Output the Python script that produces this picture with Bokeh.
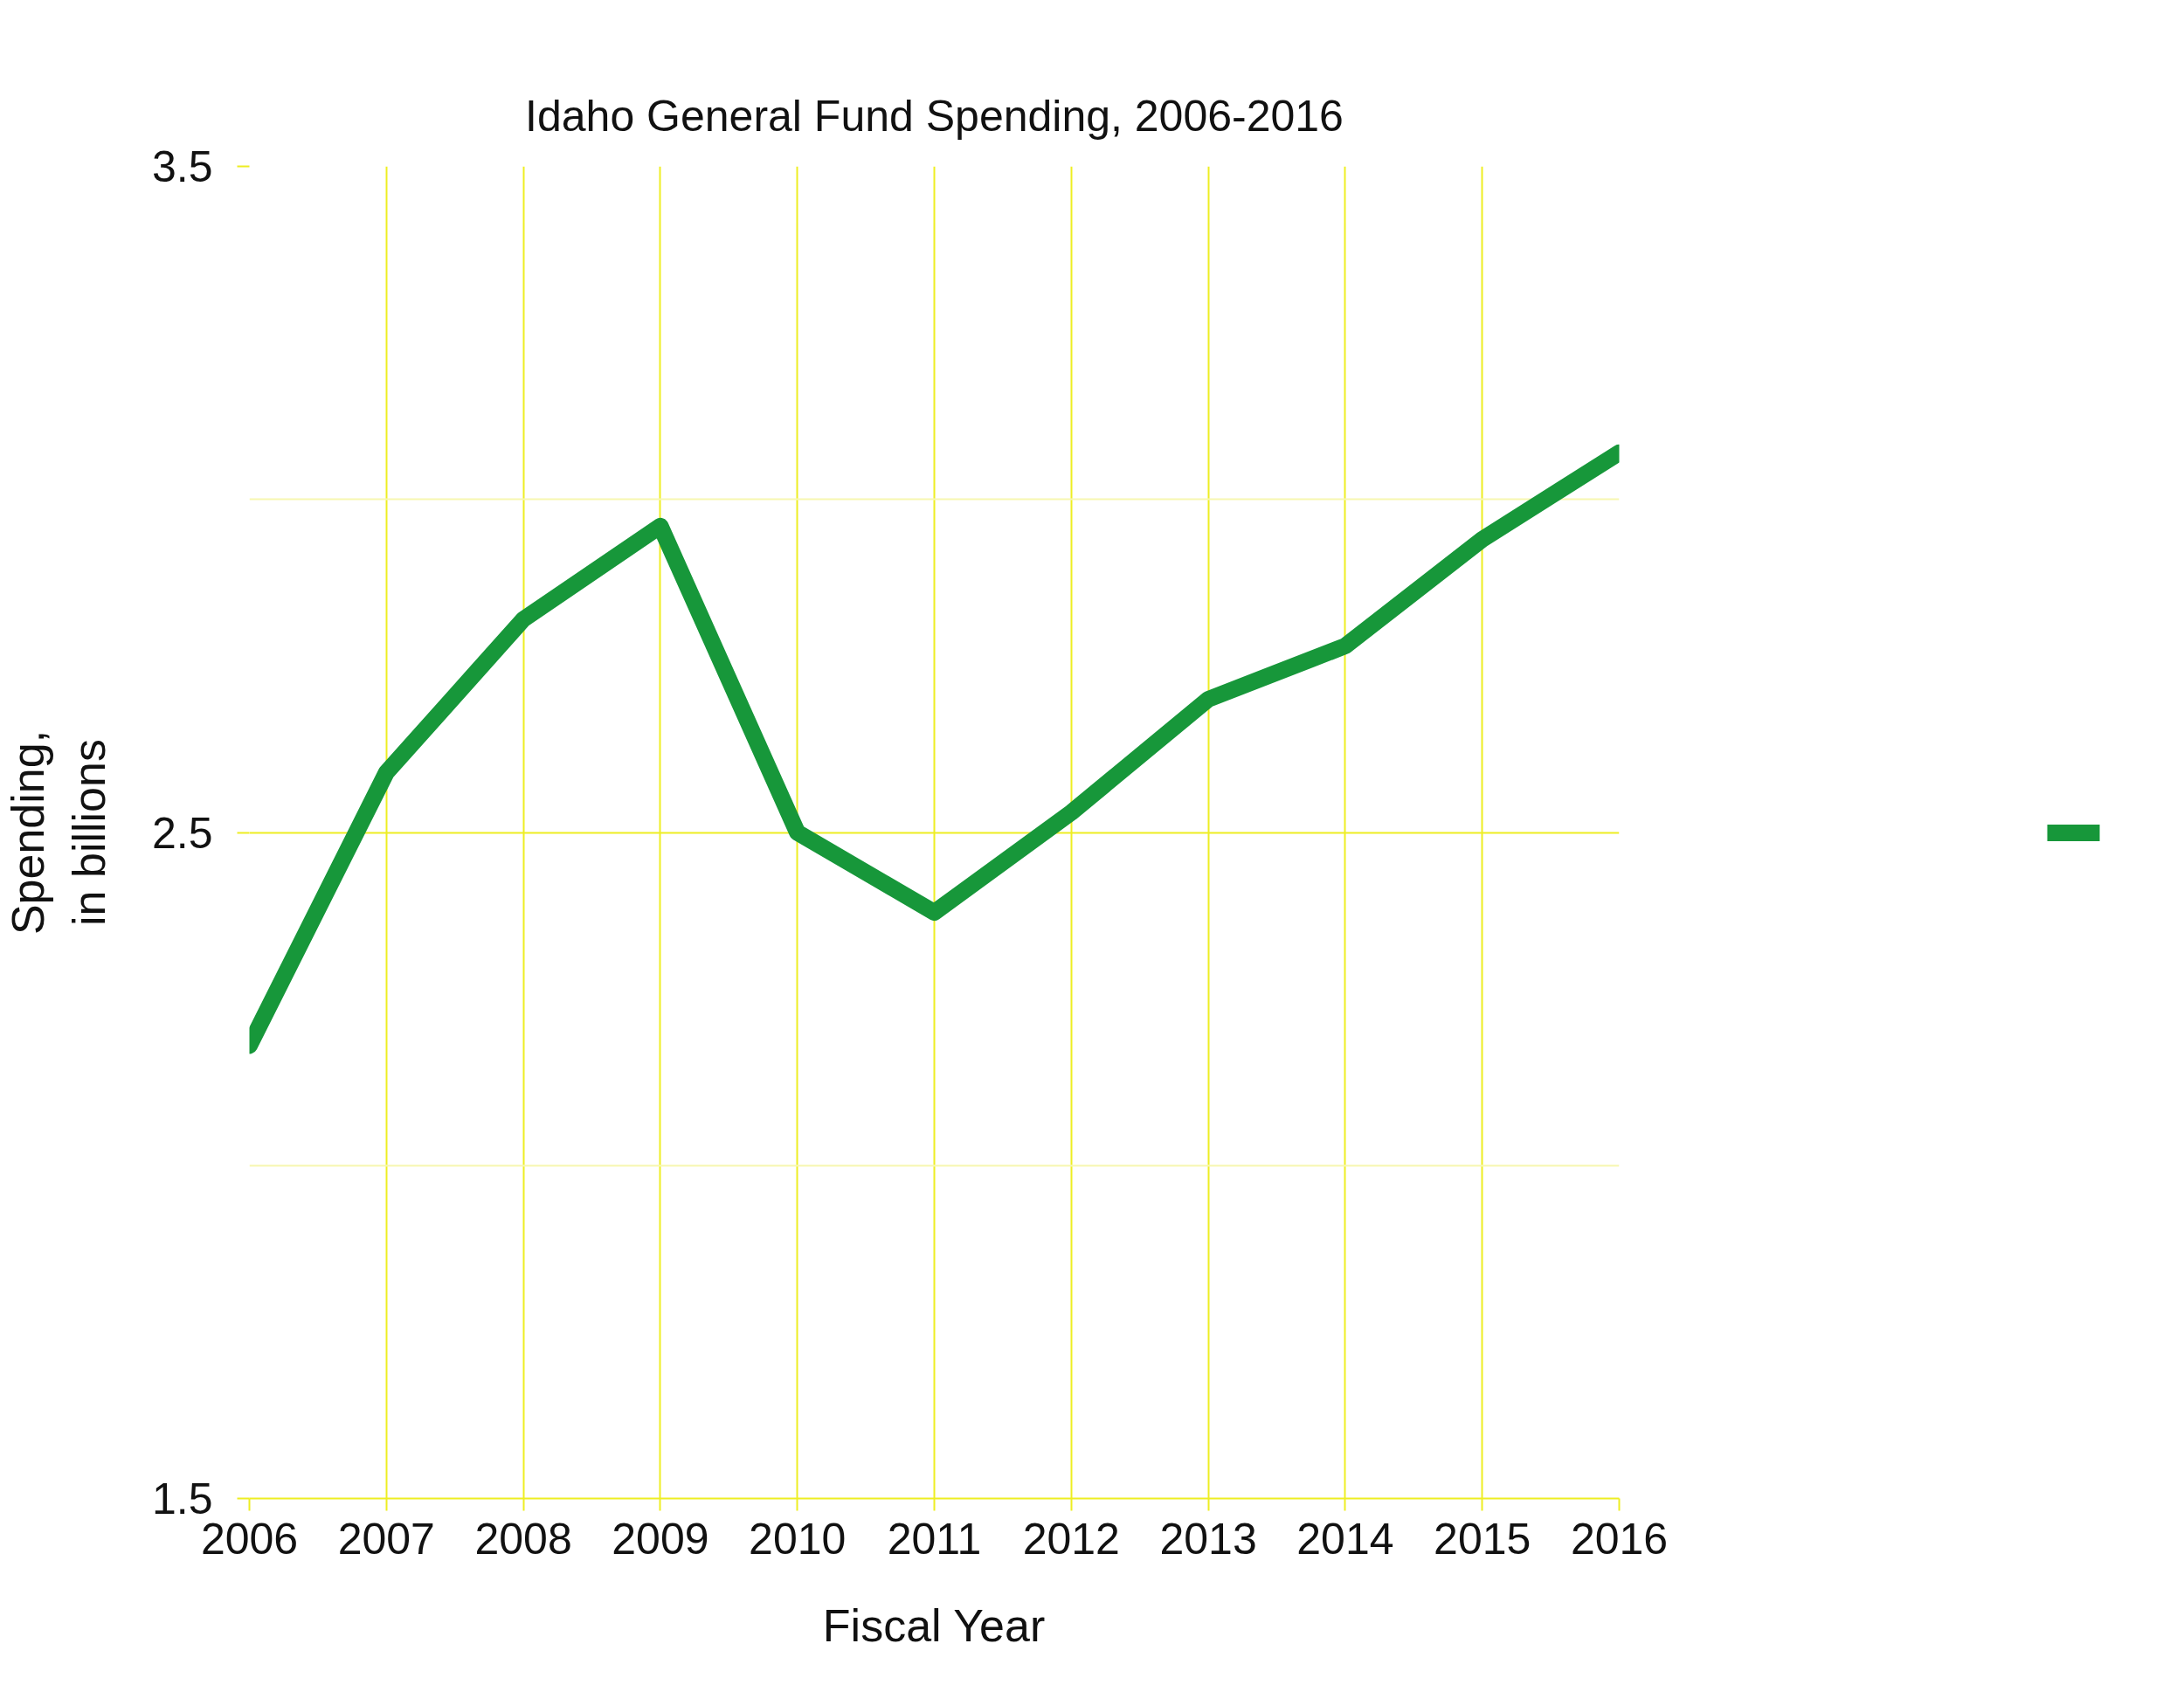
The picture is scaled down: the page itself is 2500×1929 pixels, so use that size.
from bokeh.plotting import figure
from bokeh.models import Range1d, FixedTicker, Legend, LegendItem
from bokeh.embed import file_html
from bokeh.resources import INLINE

years = [2006, 2007, 2008, 2009, 2010, 2011, 2012, 2013, 2014, 2015, 2016]
spending = [2.18, 2.59, 2.82, 2.96, 2.50, 2.38, 2.53, 2.70, 2.78, 2.94, 3.07]
y_ticks = [1.5, 2.5, 3.5]
y_minor = [2.0, 3.0]

FONT = "Liberation Sans"
GREEN = "#17973a"
YEL = "#eeee22"

p = figure(frame_width=1568, frame_height=1525, min_border_left=100, min_border_right=604,
           min_border_top=190, min_border_bottom=150, output_backend="svg",
           toolbar_location=None, x_range=Range1d(2006, 2016), y_range=Range1d(1.5, 3.5),
           title="Idaho General Fund Spending, 2006-2016")
p.title.align = "center"
p.title.offset = 166
p.title.text_font = FONT
p.title.text_font_size = "50px"
p.title.text_font_style = "normal"
p.title.text_color = "#111111"
p.title.standoff = 60
p.outline_line_color = None

p.xaxis.ticker = FixedTicker(ticks=years)
p.yaxis.ticker = FixedTicker(ticks=y_ticks, minor_ticks=y_minor)
p.xaxis.axis_label = "Fiscal Year"
p.yaxis.axis_label = "Spending,\nin billions"
for ax in (p.xaxis[0], p.yaxis[0]):
    ax.major_label_text_font = FONT
    ax.major_label_text_font_size = "50px"
    ax.major_label_text_color = "#111111"
    ax.axis_label_text_font = FONT
    ax.axis_label_text_font_size = "52px"
    ax.axis_label_text_font_style = "normal"
    ax.axis_label_text_color = "#111111"
    ax.axis_line_color = YEL
    ax.axis_line_width = 2
    ax.major_tick_line_color = YEL
    ax.major_tick_line_width = 2
    ax.major_tick_out = 14
    ax.major_tick_in = 0
    ax.minor_tick_line_color = None
p.yaxis.axis_line_color = None
p.xaxis.major_label_standoff = 14
p.yaxis.major_label_standoff = 28
p.xaxis.axis_label_standoff = 50
p.yaxis.axis_label_standoff = 40

p.xgrid.grid_line_color = YEL
p.xgrid.grid_line_width = 2
p.ygrid.grid_line_color = YEL
p.ygrid.grid_line_width = 2
p.ygrid.minor_grid_line_color = "#f7f7b0"
p.ygrid.minor_grid_line_width = 2

r = p.line(years, spending, line_color=GREEN, line_width=19, line_cap="round", line_join="round")

legend = Legend(items=[LegendItem(label=" ", renderers=[r])], location="center",
                glyph_width=60, glyph_height=30, background_fill_alpha=0, margin=270,
                border_line_color=None, label_text_font_size="1px")
p.add_layout(legend, "right")

open("out.html", "w").write(file_html(p, INLINE))
